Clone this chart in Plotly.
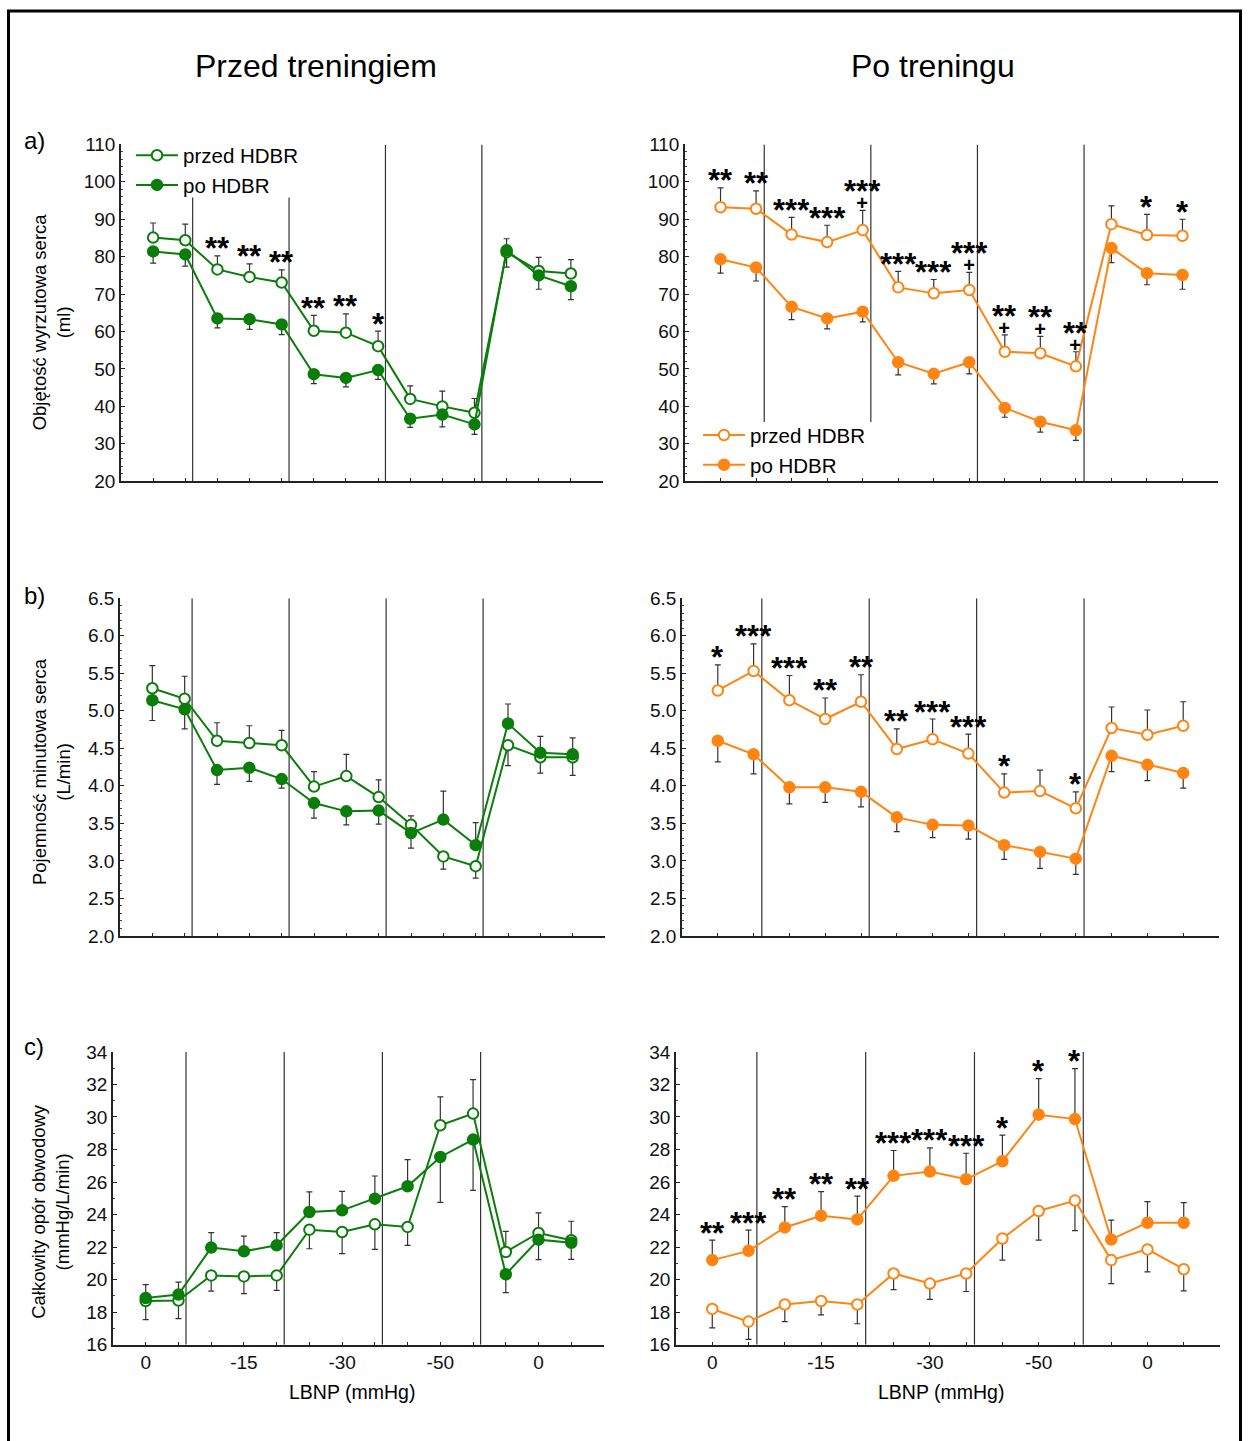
import plotly.graph_objects as go

W = 1249
FIG_H = 1441
# the captured page is shifted ~9.5 px down and squeezed by ~0.986 vertically; compensate
Y_OFF = 9.5
Y_SCALE = 0.986
FONT = "Liberation Sans, Arial, sans-serif"
GREEN = "#0a7d0a"
ORANGE = "#ff8412"
ERRC = "#333333"

# ---------------- data ----------------
point_index = list(range(14))
tick_positions = [0, 3, 6, 9, 12]
tick_labels = ["0", "-15", "-30", "-50", "0"]
phase_bounds = [1.23, 4.23, 7.23, 10.23]

series_names = ["przed HDBR", "po HDBR"]
column_titles = ["Przed treningiem", "Po treningu"]
row_letters = ["a)", "b)", "c)"]
y_titles = ["Objętość wyrzutowa serca<br>(ml)",
            "Pojemność minutowa serca<br>(L/min)",
            "Całkowity opór obwodowy<br>(mmHg/L/min)"]
x_title = "LBNP (mmHg)"

# a) stroke volume - before training
sv_pre_przed = [85.1, 84.4, 76.6, 74.6, 73.1, 60.2, 59.7, 56.1, 42.0, 40.0, 38.3, 81.2, 76.2, 75.5]
sv_pre_przed_err = [3.9, 4.3, 3.6, 3.5, 3.4, 4.1, 5.0, 4.0, 3.5, 4.1, 3.8, 4.0, 3.6, 3.7]
sv_pre_po = [81.4, 80.6, 63.5, 63.3, 61.9, 48.6, 47.6, 49.7, 36.7, 37.8, 35.2, 81.7, 75.0, 72.1]
sv_pre_po_err = [3.1, 3.1, 2.5, 2.7, 2.7, 2.5, 2.4, 2.5, 2.3, 3.3, 2.7, 3.1, 3.7, 3.6]
sv_pre_stars = ["", "", "**", "**", "**", "**", "**", "*", "", "", "", "", "", ""]
sv_pre_plus = [""] * 14

# a) stroke volume - after training
sv_post_przed = [93.2, 92.8, 85.9, 83.9, 87.1, 71.8, 70.2, 71.1, 54.6, 54.2, 50.7, 88.7, 85.8, 85.6]
sv_post_przed_err = [5.2, 4.8, 4.6, 4.5, 5.3, 4.3, 3.7, 4.7, 4.5, 4.5, 3.9, 4.9, 5.5, 4.4]
sv_post_po = [79.3, 77.1, 66.6, 63.5, 65.3, 51.8, 48.7, 51.8, 39.6, 35.9, 33.6, 82.3, 75.6, 75.1]
sv_post_po_err = [3.7, 3.6, 3.4, 2.8, 2.7, 3.4, 2.7, 3.1, 2.5, 2.8, 2.7, 3.9, 3.1, 3.8]
sv_post_stars = ["**", "**", "***", "***", "***", "***", "***", "***", "**", "**", "**", "", "*", "*"]
sv_post_plus = ["", "", "", "", "+", "", "", "+", "+", "+", "+", "", "", ""]

# b) cardiac output - before training
co_pre_przed = [5.30, 5.16, 4.60, 4.57, 4.54, 3.99, 4.13, 3.85, 3.48, 3.06, 2.93, 4.54, 4.38, 4.38]
co_pre_przed_err = [0.30, 0.30, 0.24, 0.23, 0.20, 0.20, 0.29, 0.23, 0.12, 0.17, 0.16, 0.27, 0.21, 0.24]
co_pre_po = [5.14, 5.02, 4.21, 4.24, 4.09, 3.77, 3.66, 3.67, 3.37, 3.55, 3.21, 4.83, 4.44, 4.42]
co_pre_po_err = [0.27, 0.26, 0.19, 0.18, 0.12, 0.20, 0.18, 0.18, 0.20, 0.38, 0.30, 0.26, 0.22, 0.22]
co_pre_stars = [""] * 14
co_pre_plus = [""] * 14

# b) cardiac output - after training
co_post_przed = [5.27, 5.53, 5.14, 4.89, 5.12, 4.49, 4.62, 4.43, 3.91, 3.93, 3.70, 4.77, 4.68, 4.80]
co_post_przed_err = [0.34, 0.36, 0.33, 0.28, 0.36, 0.27, 0.27, 0.26, 0.25, 0.28, 0.22, 0.28, 0.33, 0.32]
co_post_po = [4.60, 4.42, 3.98, 3.98, 3.92, 3.58, 3.48, 3.47, 3.21, 3.12, 3.03, 4.40, 4.28, 4.17]
co_post_po_err = [0.28, 0.26, 0.22, 0.20, 0.20, 0.19, 0.17, 0.18, 0.19, 0.22, 0.21, 0.21, 0.21, 0.20]
co_post_stars = ["*", "***", "***", "**", "**", "**", "***", "***", "*", "", "*", "", "", ""]
co_post_plus = [""] * 14

# c) total peripheral resistance - before training
tpr_pre_przed = [18.69, 18.72, 20.26, 20.20, 20.26, 23.07, 22.93, 23.40, 23.24, 29.49, 30.21, 21.70, 22.87, 22.42]
tpr_pre_przed_err = [1.15, 1.11, 0.96, 1.06, 0.92, 1.17, 1.33, 1.54, 1.13, 1.74, 2.09, 1.27, 1.23, 1.17]
tpr_pre_po = [18.87, 19.08, 21.97, 21.74, 22.11, 24.16, 24.26, 24.98, 25.74, 27.54, 28.61, 20.33, 22.46, 22.27]
tpr_pre_po_err = [0.82, 0.77, 0.92, 0.94, 0.78, 1.23, 1.17, 1.39, 1.64, 2.79, 3.12, 1.13, 1.23, 1.02]
tpr_pre_stars = [""] * 14
tpr_pre_plus = [""] * 14

# c) total peripheral resistance - after training
tpr_post_przed = [18.20, 17.42, 18.47, 18.69, 18.47, 20.38, 19.76, 20.38, 22.53, 24.22, 24.86, 21.20, 21.86, 20.64]
tpr_post_przed_err = [1.17, 1.09, 1.05, 0.86, 1.18, 0.99, 0.97, 1.11, 1.33, 1.79, 1.85, 1.44, 1.38, 1.33]
tpr_post_po = [21.20, 21.77, 23.21, 23.93, 23.70, 26.38, 26.64, 26.17, 27.28, 30.14, 29.87, 22.47, 23.50, 23.50]
tpr_post_po_err = [1.23, 1.28, 1.28, 1.48, 1.44, 1.56, 1.46, 1.60, 1.60, 2.22, 3.10, 1.19, 1.29, 1.23]
tpr_post_stars = ["**", "***", "**", "**", "**", "***", "***", "***", "*", "*", "*", "", "", ""]
tpr_post_plus = [""] * 14

# ---------------- layout helpers ----------------
def px_x(p):
    return p / W

def px_y(p):
    return 1 - ((p - Y_OFF) / Y_SCALE) / FIG_H

panels = [
    dict(r=0, c=0, n=1, xd=(121, 603), yd=(144, 481), yr=(20, 110), dt=10, mdt=2, fmt="d",
         a=sv_pre_przed, ae=sv_pre_przed_err, b=sv_pre_po, be=sv_pre_po_err,
         stars=sv_pre_stars, plus=sv_pre_plus, color=GREEN,
         spans=[(20, 95.8), (20, 95.8), None, None]),
    dict(r=0, c=1, n=2, xd=(685, 1218), yd=(144, 481), yr=(20, 110), dt=10, mdt=2, fmt="d",
         a=sv_post_przed, ae=sv_post_przed_err, b=sv_post_po, be=sv_post_po_err,
         stars=sv_post_stars, plus=sv_post_plus, color=ORANGE,
         spans=[(35.8, 110), (35.8, 110), None, None]),
    dict(r=1, c=0, n=3, xd=(120, 605), yd=(598, 936), yr=(2.0, 6.5), dt=0.5, mdt=0.1, fmt=".1f",
         a=co_pre_przed, ae=co_pre_przed_err, b=co_pre_po, be=co_pre_po_err,
         stars=co_pre_stars, plus=co_pre_plus, color=GREEN, spans=[None] * 4),
    dict(r=1, c=1, n=4, xd=(682, 1219), yd=(598, 936), yr=(2.0, 6.5), dt=0.5, mdt=0.1, fmt=".1f",
         a=co_post_przed, ae=co_post_przed_err, b=co_post_po, be=co_post_po_err,
         stars=co_post_stars, plus=co_post_plus, color=ORANGE, spans=[None] * 4),
    dict(r=2, c=0, n=5, xd=(113, 604), yd=(1052, 1345), yr=(16, 34), dt=2, mdt=1, fmt="d",
         a=tpr_pre_przed, ae=tpr_pre_przed_err, b=tpr_pre_po, be=tpr_pre_po_err,
         stars=tpr_pre_stars, plus=tpr_pre_plus, color=GREEN, spans=[None] * 4),
    dict(r=2, c=1, n=6, xd=(676, 1220), yd=(1052, 1345), yr=(16, 34), dt=2, mdt=1, fmt="d",
         a=tpr_post_przed, ae=tpr_post_przed_err, b=tpr_post_po, be=tpr_post_po_err,
         stars=tpr_post_stars, plus=tpr_post_plus, color=ORANGE, spans=[None] * 4),
]

ticktext_all = [tick_labels[tick_positions.index(i)] if i in tick_positions else "" for i in point_index]

fig = go.Figure()
layout = {}
annotations = []
shapes = []

for p in panels:
    sfx = "" if p["n"] == 1 else str(p["n"])
    xa, ya = "x" + sfx, "y" + sfx
    color = p["color"]
    a, ae, b, be = p["a"], p["ae"], p["b"], p["be"]
    # error direction: the higher series gets the upper bar, the lower one the lower bar
    a_up = [e if v >= o else 0 for v, o, e in zip(a, b, ae)]
    a_dn = [0 if v >= o else e for v, o, e in zip(a, b, ae)]
    b_up = [e if v > o else 0 for v, o, e in zip(b, a, be)]
    b_dn = [0 if v > o else e for v, o, e in zip(b, a, be)]
    legend_id = "legend" if p["c"] == 0 else "legend2"
    for vals, up, dn, name, fill, rank in [(a, a_up, a_dn, series_names[0], "white", 1),
                                           (b, b_up, b_dn, series_names[1], color, 2)]:
        fig.add_trace(go.Scatter(
            x=point_index, y=vals, mode="lines+markers", name=name,
            line=dict(color=color, width=2),
            marker=dict(symbol="circle", size=10.5, color=fill, line=dict(color=color, width=2)),
            error_y=dict(type="data", symmetric=False, array=up, arrayminus=dn,
                         color=ERRC, thickness=1.2, width=3),
            xaxis=xa, yaxis=ya, legend=legend_id, legendrank=rank,
            showlegend=(p["r"] == 0), hoverinfo="skip"))

    layout["xaxis" + sfx] = dict(
        domain=[px_x(p["xd"][0]), px_x(p["xd"][1])], range=[-1, 14], anchor=ya,
        showline=True, linecolor="#222", linewidth=1.5, ticks="inside", ticklen=3,
        tickcolor="#222", tickvals=point_index, ticktext=ticktext_all,
        showticklabels=(p["r"] == 2), showgrid=False, zeroline=False,
        tickfont=dict(family=FONT, size=19, color="#111"))
    layout["yaxis" + sfx] = dict(
        domain=[px_y(p["yd"][1]), px_y(p["yd"][0])], range=list(p["yr"]), anchor=xa,
        showline=True, linecolor="#222", linewidth=1.5, ticks="inside", ticklen=4,
        tickcolor="#222", dtick=p["dt"], tick0=p["yr"][0], tickformat=p["fmt"],
        minor=dict(ticks="inside", ticklen=2, dtick=p["mdt"], tickcolor="#444"),
        showgrid=False, zeroline=False, tickfont=dict(family=FONT, size=19, color="#111"))

    for xb, span in zip(phase_bounds, p["spans"]):
        y0, y1 = span if span else p["yr"]
        shapes.append(dict(type="line", xref=xa, yref=ya, x0=xb, x1=xb, y0=y0, y1=y1,
                           line=dict(color="#333", width=1.2), layer="below"))

    for i in point_index:
        if not p["stars"][i]:
            continue
        tops = []
        if a_up[i] > 0 or a[i] >= b[i]:
            tops.append(a[i] + a_up[i])
        if b_up[i] > 0 or b[i] > a[i]:
            tops.append(b[i] + b_up[i])
        top = max(tops)
        if p["plus"][i]:
            # stars with a "+" beneath them, as one two-line text with tight line spacing
            txt = ("<span style='font-size:31px'><b>" + p["stars"][i] + "</b></span><br>"
                   "<span style='font-size:20px'><b>" + p["plus"][i] + "</b></span>")
            annotations.append(dict(x=i, y=top, xref=xa, yref=ya, text=txt,
                                    showarrow=False, yanchor="bottom", xanchor="center",
                                    yshift=-5, borderpad=0,
                                    font=dict(family=FONT, size=6, color="black")))
        else:
            annotations.append(dict(x=i, y=top, xref=xa, yref=ya, text="<b>" + p["stars"][i] + "</b>",
                                    showarrow=False, yanchor="middle", xanchor="center",
                                    yshift=7, font=dict(family=FONT, size=31, color="black")))

# column titles
for txt, cx in zip(column_titles, [316, 933]):
    annotations.append(dict(x=px_x(cx), y=px_y(66), xref="paper", yref="paper", text=txt,
                            showarrow=False, xanchor="center", yanchor="middle",
                            font=dict(family=FONT, size=32, color="black")))
# row letters and y titles
for letter, ly, yt, ty in zip(row_letters, [140, 595, 1047], y_titles, [322, 772, 1212]):
    annotations.append(dict(x=px_x(22), y=px_y(ly), xref="paper", yref="paper", text=letter,
                            showarrow=False, xanchor="left", yanchor="middle",
                            font=dict(family=FONT, size=24, color="black")))
    annotations.append(dict(x=px_x(51), y=px_y(ty), xref="paper", yref="paper", text=yt,
                            showarrow=False, xanchor="center", yanchor="middle", textangle=-90,
                            font=dict(family=FONT, size=18.5, color="black")))
# x titles
for cx in [352, 941]:
    annotations.append(dict(x=px_x(cx), y=px_y(1392), xref="paper", yref="paper", text=x_title,
                            showarrow=False, xanchor="center", yanchor="middle",
                            font=dict(family=FONT, size=19.5, color="black")))

# outer frame
shapes.append(dict(type="rect", xref="paper", yref="paper", x0=px_x(8.5), x1=px_x(1240.5),
                   y0=-0.05, y1=px_y(10.5), line=dict(color="black", width=3),
                   fillcolor="rgba(0,0,0,0)", layer="above"))

fig.update_layout(
    width=W, height=FIG_H, autosize=False,
    margin=dict(l=0, r=0, t=0, b=0),
    paper_bgcolor="white", plot_bgcolor="white",
    font=dict(family=FONT, color="black"),
    annotations=annotations, shapes=shapes,
    legend=dict(x=px_x(131), y=px_y(135), xanchor="left", yanchor="top",
                font=dict(family=FONT, size=20.5, color="black"), bgcolor="rgba(0,0,0,0)",
                tracegroupgap=0, itemwidth=42),
    legend2=dict(x=px_x(698), y=px_y(415), xanchor="left", yanchor="top",
                 font=dict(family=FONT, size=20.5, color="black"), bgcolor="rgba(0,0,0,0)",
                 tracegroupgap=0, itemwidth=42),
    **layout,
)

fig.write_html("out.html")
